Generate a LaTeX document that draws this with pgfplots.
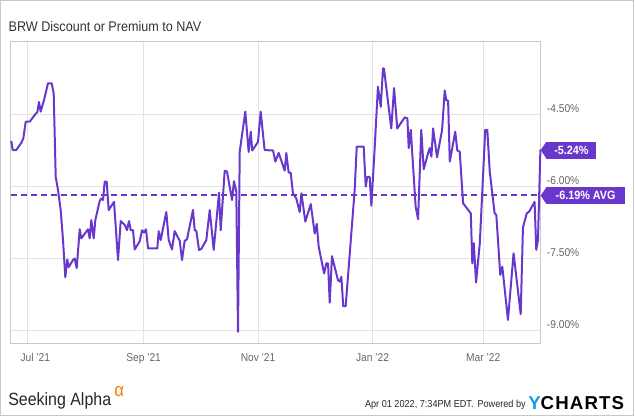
\documentclass[border=0pt]{standalone}
\usepackage{pgfplots}
\pgfplotsset{compat=1.18}
\usepackage{fontspec}
\setmainfont{Liberation Sans}[FakeStretch=0.9]
\newfontfamily\logofont{Liberation Sans}[LetterSpace=6]
\definecolor{lineP}{RGB}{104,56,204}
\definecolor{gridC}{RGB}{227,227,227}
\definecolor{boxC}{RGB}{200,200,200}
\definecolor{tickC}{RGB}{102,102,102}
\definecolor{ycblue}{RGB}{20,155,230}
\definecolor{saorange}{RGB}{255,120,0}
\begin{document}
\begin{tikzpicture}
\useasboundingbox (0,0) rectangle (476.25pt,312.75pt);
\draw[boxC, line width=0.75pt] (0.375pt,0.75pt) rectangle (475.3pt,312.375pt);
\begin{axis}[
 at={(8.025pt,54.75pt)}, anchor=south west,
 scale only axis, width=397.5pt, height=226.5pt,
 xmin=-8.85, xmax=273.66, ymin=-9.29, ymax=-3.0,
 axis line style={boxC, line width=0.75pt},
 grid=major, major grid style={gridC, line width=0.75pt},
 major tick length=0pt,
 xtick={0,62,123,184,243},
 xticklabels={\hspace{12pt}Jul '21, Sep '21, Nov '21, Jan '22, Mar '22},
 ytick={-9,-7.5,-6,-4.5},
 yticklabels={-9.00\%,-7.50\%,-6.00\%,-4.50\%},
 yticklabel pos=right,
 yticklabel style={anchor=base west, inner sep=0pt, xshift=4.5pt, yshift=1.3pt, font=\fontsize{8.5}{10}\selectfont, text=tickC},
 xticklabel style={anchor=base, inner sep=0pt, yshift=-13.5pt, font=\fontsize{8.5}{10}\selectfont, text=tickC},
 clip=false,
]
\addplot[lineP, line width=1.5pt, dash pattern=on 4.5pt off 3pt] coordinates {(-8.85,-6.19) (273.66,-6.19)};
\addplot[lineP, line width=1.5pt, line join=round, mark=none] coordinates {
(-8.53,-5.06) (-7.78,-5.25) (-5.86,-5.25) (-3.2,-5.10) (-2.13,-5.01) (-0.85,-4.66) (1.28,-4.66) (3.94,-4.52) (5.33,-4.46) (6.24,-4.25) (7.14,-4.45) (8.9,-4.21) (11.03,-3.86) (13.0,-3.86) (14.07,-4.07) (15.14,-5.81) (16.36,-6.08) (17.8,-6.5) (19.03,-7.125) (20.26,-7.90) (21.32,-7.53) (22.07,-7.69) (24.36,-7.54) (25.27,-7.51) (26.33,-7.71) (27.93,-6.90) (28.78,-7.09) (31.45,-6.95) (32.36,-6.90) (33.26,-7.09) (34.11,-6.71) (35.39,-7.09) (36.25,-6.71) (38.59,-6.31) (39.45,-6.26) (40.35,-6.29) (41.26,-5.91) (42.32,-5.91) (43.39,-6.5) (46.22,-6.33) (48.35,-7.54) (49.79,-6.73) (51.92,-6.81) (53.15,-6.92) (54.22,-6.73) (55.13,-6.92) (56.35,-6.92) (57.26,-7.32) (59.92,-7.15) (61.15,-6.92) (62.22,-6.97) (63.28,-6.90) (64.35,-7.30) (69.3,-7.30) (70.04,-6.94) (71.11,-7.125) (74.1,-6.54) (75.37,-7.125) (77.13,-7.32) (78.57,-6.94) (81.24,-7.14) (82.46,-7.54) (83.9,-7.14) (85.13,-7.11) (88.33,-6.5) (89.23,-6.92) (90.09,-6.93) (91.52,-7.33) (92.75,-7.31) (95.42,-7.125) (97.23,-6.5) (99.36,-7.33) (102.19,-6.14) (103.09,-6.92) (105.22,-5.68) (106.45,-5.70) (109.12,-6.29) (110.18,-5.90) (111.41,-6.12) (112.31,-9.035) (113.22,-5.285) (116.2,-4.45) (118.0,-5.29) (119.1,-4.87) (119.9,-5.26) (122.97,-5.08) (124.4,-4.45) (126.5,-5.25) (131.0,-5.26) (132.2,-5.49) (134.0,-5.31) (137.2,-5.68) (138.06,-5.31) (139.3,-5.72) (140.4,-5.72) (141.6,-6.15) (143.4,-6.26) (145.2,-6.54) (146.1,-6.15) (148.2,-6.74) (151.1,-6.375) (153.2,-6.99) (154.3,-6.79) (155.3,-7.26) (158.2,-7.82) (159.4,-7.61) (160.3,-7.61) (161.2,-8.43) (162.4,-7.46) (165.6,-7.96) (166.5,-7.99) (167.4,-7.89) (168.4,-8.5) (169.7,-8.5) (171.9,-7.40) (174.5,-6.08) (175.6,-5.18) (179.3,-5.18) (180.4,-6.01) (181.2,-5.81) (182.5,-5.81) (183.4,-6.41) (185.2,-5.18) (186.9,-3.93) (188.4,-4.35) (189.6,-3.55) (190.1,-3.55) (194.0,-4.80) (195.5,-3.96) (197.2,-4.80) (201.2,-4.57) (202.6,-4.59) (203.3,-5.21) (204.4,-4.83) (207.0,-6.43) (208.3,-6.69) (210.0,-4.83) (211.3,-5.65) (213.6,-5.32) (214.5,-5.21) (215.4,-5.39) (216.3,-4.80) (218.4,-5.40) (221.1,-4.83) (222.5,-4.01) (223.3,-4.21) (224.3,-4.22) (225.2,-5.49) (228.1,-4.87) (229.2,-5.26) (230.5,-5.285) (232.3,-6.36) (236.4,-6.57) (237.2,-7.61) (238.0,-7.19) (239.2,-8.01) (241.2,-7.19) (244.1,-4.83) (245.2,-4.83) (246.5,-5.70) (249.1,-6.57) (250.0,-6.60) (252.1,-7.85) (253.2,-7.68) (256.2,-8.79) (259.2,-7.40) (263.0,-8.67) (264.2,-6.86) (266.3,-6.56) (267.4,-6.54) (270.4,-6.33) (271.3,-7.33) (272.2,-7.125) (273.5,-5.24)
};
\node[fill=lineP, text=white, font=\bfseries\fontsize{9}{10}\selectfont, anchor=west, inner xsep=0pt, inner ysep=0pt, outer sep=0pt, minimum height=12.75pt, minimum width=37.5pt] (lab1) at ([xshift=4.3pt]axis cs:273.66,-5.25) {-5.24\%};
\fill[lineP] (lab1.north west) -- ([xshift=-4.3pt]lab1.west) -- (lab1.south west) -- cycle;
\node[fill=lineP, text=white, font=\bfseries\fontsize{9}{10}\selectfont, anchor=west, inner xsep=0pt, inner ysep=0pt, outer sep=0pt, minimum height=12.75pt, minimum width=58.7pt] (lab2) at ([xshift=4.3pt]axis cs:273.66,-6.2) {-6.19\% AVG};
\fill[lineP] (lab2.north west) -- ([xshift=-4.3pt]lab2.west) -- (lab2.south west) -- cycle;
\end{axis}
\node[anchor=base west, inner sep=0pt, text=black!80, font=\fontsize{10.5}{12}\selectfont] at (6.25pt,289pt) {BRW Discount or Premium to NAV};
\node[anchor=base west, inner sep=0pt, font=\fontsize{13.3}{14}\selectfont, text=black!85] at (6pt,8.25pt) {Seeking Alpha};
\node[anchor=base west, inner sep=0pt, font=\fontsize{14}{15}\selectfont, text=saorange] at (85.5pt,15.5pt) {α};
\node[anchor=base east, inner sep=0pt, font=\fontsize{7.6}{9}\selectfont, text=black!85] at (394.5pt,7.3pt) {Apr 01 2022, 7:34PM EDT.\hspace{3pt}Powered by};
\node[anchor=base west, inner sep=0pt, font=\logofont\bfseries\fontsize{14}{15}\selectfont] at (396pt,5.25pt) {\textcolor{ycblue}{Y}CHARTS};
\end{tikzpicture}
\end{document}
